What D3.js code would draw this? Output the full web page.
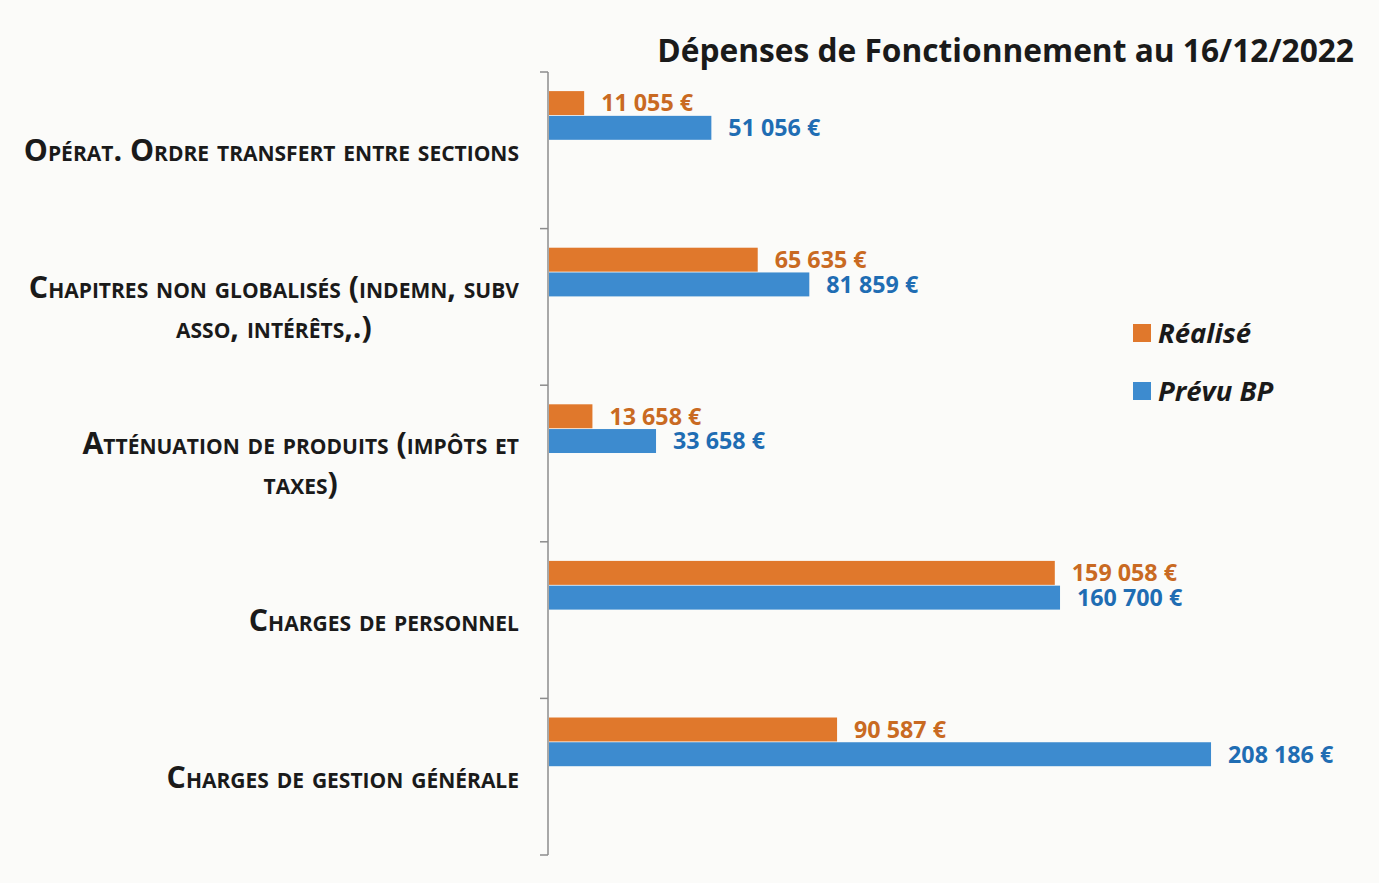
<!DOCTYPE html>
<html>
<head>
<meta charset="utf-8">
<script src="https://cdn.jsdelivr.net/npm/d3@7"></script>
<style>
  body { margin: 0; background: #fbfbf9; }
  text { font-family: "Open Sans", "Noto Sans", sans-serif; }
</style>
</head>
<body>
<div id="chart"></div>
<script>
const width = 1379,
  height = 883;

// data
const categories = ['Opérat. Ordre transfert entre sections',
  'Chapitres non globalisés (indemn, subv asso, intérêts,.)',
  'Atténuation de produits (impôts et taxes)',
  'Charges de personnel',
  'Charges de gestion générale'];
const labelLines = [['Opérat. Ordre transfert entre sections'],
  ['Chapitres non globalisés (indemn, subv', 'asso, intérêts,.)'],
  ['Atténuation de produits (impôts et', 'taxes)'],
  ['Charges de personnel'],
  ['Charges de gestion générale']];
const realise = [11055, 65635, 13658, 159058, 90587];
const prevu = [51056, 81859, 33658, 160700, 208186];
const seriesNames = ['Réalisé', 'Prévu BP'];
const seriesColors = ['#e0782c', '#3d8bcf'];
const labelColors = ['#c96a22', '#1f6db3'];
const title = 'Dépenses de Fonctionnement au 16/12/2022';

const svg = d3.select('#chart').append('svg')
  .attr('width', width)
  .attr('height', height);

// measure helper so the fallback font roughly matches the original widths
function fitSize(txt, target, opts) {
  let t = svg.append('text')
    .style('font-size', '20px')
    .style('font-weight', opts.weight || 'bold')
    .style('font-style', opts.style || 'normal')
    .style('font-variant', opts.variant || 'normal')
    .text(txt);
  let w = t.node().getComputedTextLength();
  t.remove();
  return 20 * target / w;
}

const y = d3.scaleBand()
  .domain(categories)
  .range([72, 855]);
const bw = y.bandwidth();

const x = d3.scaleLinear()
  .domain([0, 250000])
  .range([549, 1344]);

const fmt = v => d3.format(',')(v).replace(/,/g, ' ') + ' €';

// title
svg.append('text')
  .attr('x', 1354)
  .attr('y', 62)
  .attr('text-anchor', 'end')
  .style('font-weight', 'bold')
  .style('font-size', fitSize(title, 697, {}) + 'px')
  .attr('fill', '#1a1a1a')
  .text(title);

// axis
let axis = svg.append('g').attr('class', 'axis');
axis.append('line')
  .attr('x1', 548).attr('x2', 548)
  .attr('y1', 72).attr('y2', 855)
  .attr('stroke', '#8c8c8c')
  .attr('stroke-width', 1.5);
let tickPos = categories.map(c => y(c)).concat([855]);
axis.selectAll('line.tick')
  .data(tickPos)
  .enter().append('line')
  .attr('class', 'tick')
  .attr('x1', 540).attr('x2', 548)
  .attr('y1', d => d).attr('y2', d => d)
  .attr('stroke', '#8c8c8c')
  .attr('stroke-width', 1.5);

// category labels (small caps, centred block right-aligned to the axis)
const catSize = fitSize(labelLines[1][0], 495, {variant: 'small-caps'});
labelLines.forEach((lines, i) => {
  let cy = y(categories[i]) + bw / 2;
  let g = svg.append('g');
  let texts = lines.map((ln, j) => g.append('text')
    .attr('y', cy + (j - (lines.length - 1) / 2) * 40)
    .attr('dy', '0.36em')
    .attr('text-anchor', 'middle')
    .style('font-weight', 'bold')
    .style('font-variant', 'small-caps')
    .style('font-size', catSize + 'px')
    .attr('fill', '#1a1a1a')
    .text(ln));
  let maxW = d3.max(texts, t => t.node().getComputedTextLength());
  texts.forEach(t => t.attr('x', 519 - maxW / 2));
});

// bars
const series = [realise, prevu];
const valSize = fitSize('11 055 €', 92, {});
series.forEach((vals, s) => {
  let barY = c => y(c) + bw * (0.122 + s * 0.158);
  let barH = bw * 0.153;
  svg.append('g')
    .selectAll('rect')
    .data(vals)
    .enter().append('rect')
    .attr('x', x(0))
    .attr('y', (d, i) => barY(categories[i]))
    .attr('width', d => x(d) - x(0))
    .attr('height', barH)
    .attr('fill', seriesColors[s]);

  svg.append('g')
    .selectAll('text')
    .data(vals)
    .enter().append('text')
    .attr('x', d => x(d) + 17)
    .attr('y', (d, i) => barY(categories[i]) + barH / 2)
    .attr('dy', '0.36em')
    .style('font-weight', 'bold')
    .style('font-size', valSize + 'px')
    .attr('fill', labelColors[s])
    .text(d => fmt(d));
});

// legend
const legSize = fitSize('Réalisé', 93, {style: 'italic'});
let legend = svg.append('g')
  .selectAll('g')
  .data(seriesNames)
  .enter().append('g')
  .attr('transform', (d, i) => 'translate(1133,' + (324 + i * 58) + ')');
legend.append('rect')
  .attr('width', 18)
  .attr('height', 18)
  .attr('fill', (d, i) => seriesColors[i]);
legend.append('text')
  .attr('x', 25)
  .attr('y', 9)
  .attr('dy', '0.36em')
  .style('font-weight', 'bold')
  .style('font-style', 'italic')
  .style('font-size', legSize + 'px')
  .attr('fill', '#1a1a1a')
  .text(d => d);
</script>
</body>
</html>
